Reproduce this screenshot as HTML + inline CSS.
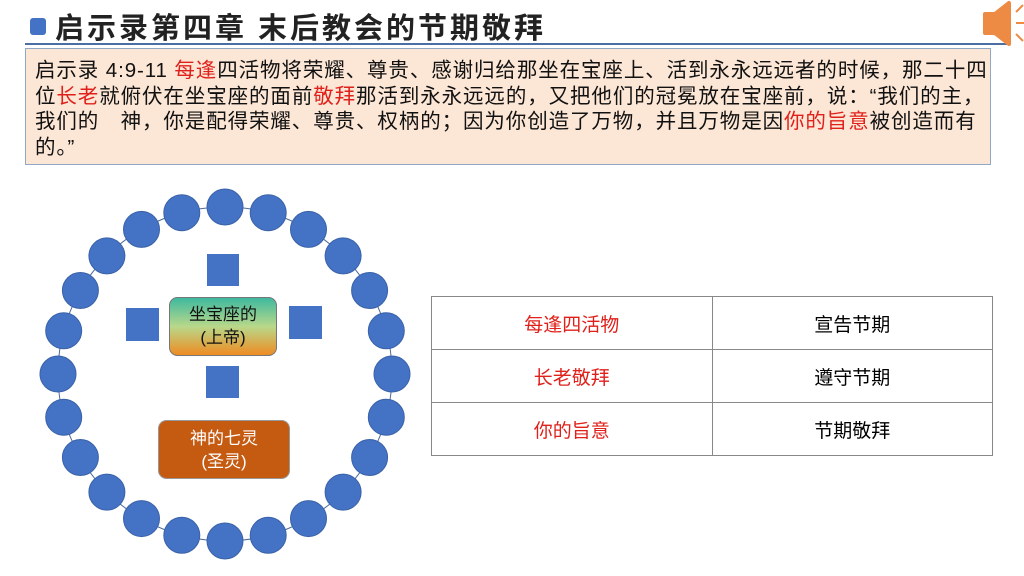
<!DOCTYPE html>
<html><head><meta charset="utf-8"><style>
body{margin:0;width:1024px;height:576px;background:#fff;position:relative;overflow:hidden;font-family:"Liberation Sans","Noto Sans CJK SC",sans-serif}
.t{position:absolute;left:55px;top:5px;font-size:29px;font-weight:bold;color:#222;letter-spacing:3px;white-space:nowrap}
.bul{position:absolute;left:30px;top:18px;width:16px;height:17px;background:#4472c4;border-radius:3px}
.hl{position:absolute;left:25px;top:43px;width:985px;height:2px;background:#4a6fa5}
.box{position:absolute;left:25px;top:48px;width:966px;height:117px;background:#fce6d6;border:1px solid #8fa8c8;box-sizing:border-box;padding:9px 0 0 9px;font-size:20.5px;line-height:25.5px;color:#111;white-space:nowrap;letter-spacing:0.9px}
.r{color:#e0201a}
table{position:absolute;left:431px;top:296px;width:562px;height:156px;border-collapse:collapse}
td{border:1px solid #888;text-align:center;font-size:19px;width:50%;height:52px;padding:0}
</style></head><body>
<div class="bul"></div><div class="t">启示录第四章 末后教会的节期敬拜</div><div class="hl"></div>
<svg style="position:absolute;left:975px;top:0" width="49" height="48"><path d="M10 14 L20 14 L34 3 L34 44 L20 33 L10 33 Z" fill="#ed8b45" stroke="#ed8b45" stroke-linejoin="round" stroke-width="4"/><path d="M41 12 L48 5 M41 23 L49 23 M41 34 L48 41" stroke="#ed8b45" stroke-width="2"/></svg>
<div class="box">启示录 4:9-11 <span class="r">每逢</span>四活物将荣耀、尊贵、感谢归给那坐在宝座上、活到永永远远者的时候，那二十四<br>位<span class="r">长老</span>就俯伏在坐宝座的面前<span class="r">敬拜</span>那活到永永远远的，又把他们的冠冕放在宝座前，说：“我们的主，<br>我们的　神，你是配得荣耀、尊贵、权柄的；因为你创造了万物，并且万物是因<span class="r">你的旨意</span>被创造而有<br>的。”</div>
<svg style="position:absolute;left:0;top:0" width="430" height="576">
<defs><linearGradient id="g" x1="0" y1="0" x2="0" y2="1"><stop offset="0" stop-color="#3cb8a0"/><stop offset=".5" stop-color="#b8d88a"/><stop offset="1" stop-color="#f08a20"/></linearGradient></defs>
<ellipse cx="225" cy="374" rx="167" ry="167" fill="none" stroke="#4a6a9a" stroke-width="1"/>
<g fill="#4472c4" stroke="#3a62a8" stroke-width="1">
<circle cx="225" cy="207" r="18"/><circle cx="268.2" cy="212.7" r="18"/><circle cx="308.5" cy="229.4" r="18"/><circle cx="343.1" cy="255.9" r="18"/><circle cx="369.6" cy="290.5" r="18"/><circle cx="386.3" cy="330.8" r="18"/><circle cx="392" cy="374" r="18"/><circle cx="386.3" cy="417.2" r="18"/><circle cx="369.6" cy="457.5" r="18"/><circle cx="343.1" cy="492.1" r="18"/><circle cx="308.5" cy="518.6" r="18"/><circle cx="268.2" cy="535.3" r="18"/><circle cx="225" cy="541" r="18"/>
<circle cx="181.8" cy="535.3" r="18"/><circle cx="141.5" cy="518.6" r="18"/><circle cx="106.9" cy="492.1" r="18"/><circle cx="80.4" cy="457.5" r="18"/><circle cx="63.7" cy="417.2" r="18"/><circle cx="58" cy="374" r="18"/><circle cx="63.7" cy="330.8" r="18"/><circle cx="80.4" cy="290.5" r="18"/><circle cx="106.9" cy="255.9" r="18"/><circle cx="141.5" cy="229.4" r="18"/><circle cx="181.8" cy="212.7" r="18"/>
</g>
<g fill="#4472c4"><rect x="207" y="254" width="32" height="32"/><rect x="126" y="308" width="33" height="33"/><rect x="289" y="306" width="33" height="33"/><rect x="206" y="366" width="33" height="32"/></g>
<rect x="169.5" y="297.5" width="107" height="58" rx="8" fill="url(#g)" stroke="#777"/>
<text x="223" y="320" font-size="17" text-anchor="middle" fill="#111" font-family="Liberation Sans,Noto Sans CJK SC,sans-serif">坐宝座的</text>
<text x="223" y="343" font-size="17" text-anchor="middle" fill="#111" font-family="Liberation Sans,Noto Sans CJK SC,sans-serif">(上帝)</text>
<rect x="158.5" y="420.5" width="131" height="58" rx="8" fill="#c55a11" stroke="#999"/>
<text x="224" y="444" font-size="17" text-anchor="middle" fill="#fff" font-family="Liberation Sans,Noto Sans CJK SC,sans-serif">神的七灵</text>
<text x="224" y="467" font-size="17" text-anchor="middle" fill="#fff" font-family="Liberation Sans,Noto Sans CJK SC,sans-serif">(圣灵)</text>
</svg>
<table><tr><td class="r">每逢四活物</td><td>宣告节期</td></tr><tr><td class="r">长老敬拜</td><td>遵守节期</td></tr><tr><td class="r">你的旨意</td><td>节期敬拜</td></tr></table>
</body></html>
